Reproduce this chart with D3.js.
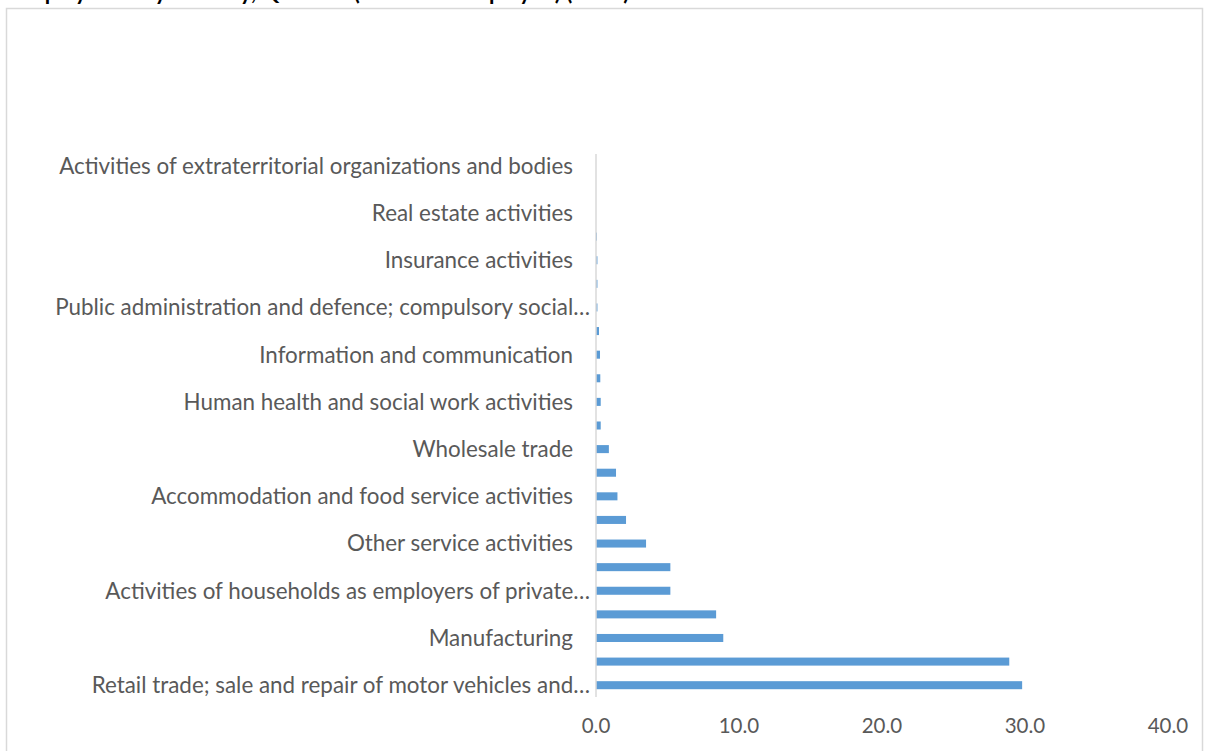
<!DOCTYPE html>
<html>
<head>
<meta charset="utf-8">
<script src="https://cdn.jsdelivr.net/npm/d3@7/dist/d3.min.js"></script>
<style>
  html, body { margin: 0; padding: 0; background: #ffffff; }
  svg { display: block; }
</style>
</head>
<body>
<svg id="chart" width="1205" height="751"></svg>
<script>
// Industries, listed from the bottom bar to the top bar
const industries = [
  "Retail trade; sale and repair of motor vehicles and motorcycles",
  "Agriculture, forestry and fishing",
  "Manufacturing",
  "Construction",
  "Activities of households as employers of private domestic personnel",
  "Transportation and storage",
  "Other service activities",
  "Education",
  "Accommodation and food service activities",
  "Administrative and support service activities",
  "Wholesale trade",
  "Arts, entertainment and recreation",
  "Human health and social work activities",
  "Professional, scientific and technical activities",
  "Information and communication",
  "Mining and quarrying",
  "Public administration and defence; compulsory social security",
  "Financial service activities",
  "Insurance activities",
  "Water supply; sewerage, waste management and remediation",
  "Real estate activities",
  "Electricity, gas, steam and air conditioning supply",
  "Activities of extraterritorial organizations and bodies"
];

// Axis labels as printed (every second industry is labelled)
const axisLabels = [
  "Retail trade; sale and repair of motor vehicles and\u2026",
  "",
  "Manufacturing",
  "",
  "Activities of households as employers of private\u2026",
  "",
  "Other service activities",
  "",
  "Accommodation and food service activities",
  "",
  "Wholesale trade",
  "",
  "Human health and social work activities",
  "",
  "Information and communication",
  "",
  "Public administration and defence; compulsory social\u2026",
  "",
  "Insurance activities",
  "",
  "Real estate activities",
  "",
  "Activities of extraterritorial organizations and bodies"
];

// Share of employment (%)
const shares = [
  29.8, 28.9, 8.9, 8.4, 5.2, 5.2, 3.5, 2.1, 1.5, 1.4, 0.9,
  0.33, 0.33, 0.3, 0.28, 0.21, 0.1, 0.1, 0.1, 0.07, 0, 0, 0
];

const xTicks = [0, 10, 20, 30, 40];

const svg = d3.select("#chart");
const labelFont = "Lato, 'Open Sans', sans-serif";
const grey = "#595959";

// Chart frame
svg.append("rect")
  .attr("x", 6.5).attr("y", 8.5)
  .attr("width", 1196).attr("height", 760)
  .attr("fill", "#ffffff")
  .attr("stroke", "#d9d9d9").attr("stroke-width", 1.5);

// Title (sits above the frame, only its descenders reach the page)
svg.append("text")
  .attr("x", 14).attr("y", 0)
  .attr("font-family", labelFont)
  .attr("font-weight", "bold")
  .attr("font-size", 22)
  .attr("fill", "#000")
  .text("Employment by industry, Q2 2021 (% of total employed) (2021)");

const x = d3.scaleLinear().domain([0, 40]).range([596, 1168]);
const y = d3.scaleBand()
  .domain(d3.range(industries.length))
  .range([697, 154])
  .paddingInner(0.66)
  .paddingOuter(0.33);

// Bars
svg.append("g")
  .selectAll("rect")
  .data(shares)
  .join("rect")
  .attr("x", x(0))
  .attr("y", (d, i) => y(i))
  .attr("width", d => Math.max(0, x(d) - x(0)))
  .attr("height", y.bandwidth())
  .attr("fill", "#5b9bd5");

// Vertical category axis line
svg.append("line")
  .attr("x1", x(0)).attr("x2", x(0))
  .attr("y1", 154).attr("y2", 697)
  .attr("stroke", "#d9d9d9").attr("stroke-width", 1.5);

// Category labels
svg.append("g")
  .selectAll("text")
  .data(axisLabels)
  .join("text")
  .attr("x", d => d.endsWith("\u2026") ? 590 : 573)
  .attr("y", (d, i) => y(i) + y.bandwidth() / 2)
  .attr("dy", "0.35em")
  .attr("text-anchor", "end")
  .attr("font-family", labelFont)
  .attr("font-size", 22.4)
  .attr("fill", grey)
  .text(d => d);

// Value axis tick labels
svg.append("g")
  .selectAll("text")
  .data(xTicks)
  .join("text")
  .attr("x", d => x(d))
  .attr("y", 726)
  .attr("dy", "0.35em")
  .attr("text-anchor", "middle")
  .attr("font-family", labelFont)
  .attr("font-size", 20.5)
  .attr("fill", grey)
  .text(d => d3.format(".1f")(d));
</script>
</body>
</html>
